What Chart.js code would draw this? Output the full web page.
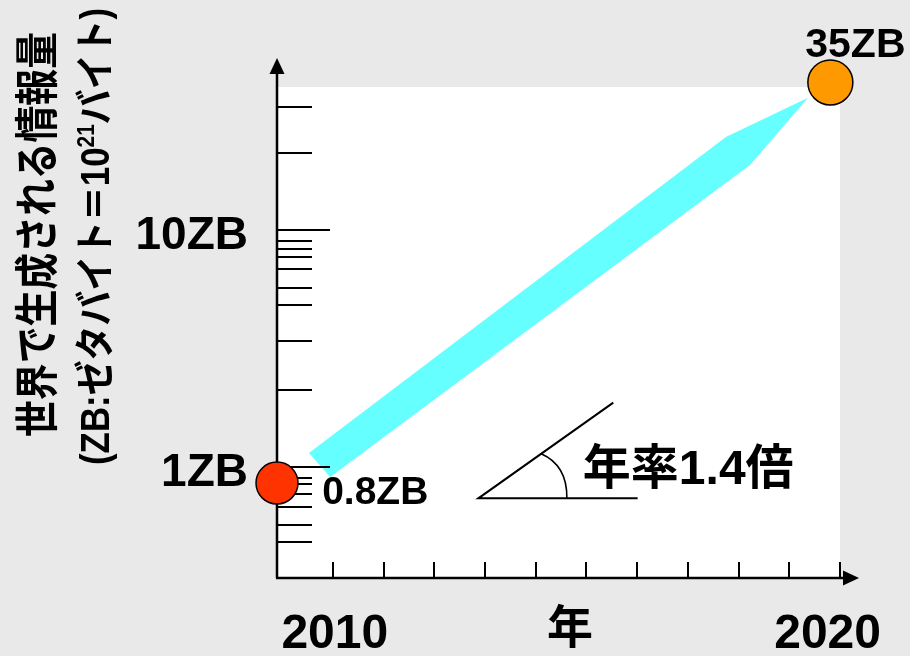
<!DOCTYPE html>
<html lang="ja">
<head>
<meta charset="utf-8">
<title>世界で生成される情報量</title>
<script src="https://cdn.jsdelivr.net/npm/chart.js@4.4.1/dist/chart.umd.min.js"></script>
<style>
  html, body { margin: 0; padding: 0; background: #e9e9e9; }
  .chart-parent { position: relative; width: 910px; height: 656px; }
</style>
</head>
<body>
<div class="chart-parent">
  <canvas id="myChart"></canvas>
</div>
<script>
// growth band (year, ZB), polygon order
const bandYears = [2009.53, 2017.75, 2019.37, 2018.23, 2009.95, 2009.53];
const bandZB = [1.145, 24.6, 36, 18.8, 0.906, 1.145];

// start / end markers
const startYear = [2008.9];
const startZB = [0.855];
const endYear = [2019.81];
const endZB = [41.8];

// "annual rate" angle sketch: upper end, vertex, horizontal end
const angleYears = [2015.53, 2012.87, 2016.01];
const angleZB = [1.866, 0.737, 0.737];

// axes
const yearTicks = [2010, 2011, 2012, 2013, 2014, 2015, 2016, 2017, 2018, 2019, 2020];
const yearLabelValues = [2010, 2020];
const yearLabels = ['2010', '2020'];
const zbMinorTicks = [0.48, 0.57, 0.68, 0.77, 0.85, 0.9, 2.1, 3.4, 4.8, 5.7, 6.8, 7.7, 8.3, 9, 21, 33];
const zbMajorTicks = [1, 10];
const zbLabels = ['1ZB', '10ZB'];

const startText = '0.8ZB';
const startTextAt = [2009.79, 0.8];
const endText = '35ZB';
const rateText = '年率1.4倍';
const rateTextAt = [2014.93, 1.0];
const xTitle = '年';
const yTitle1 = '世界で生成される情報量';

const FONT = '"Liberation Sans", "Noto Sans CJK JP", sans-serif';
const font = size => 'bold ' + size + 'px ' + FONT;

// draw text with its glyphs centred on cy
function label(ctx, str, x, cy, size, align) {
  ctx.font = font(size);
  ctx.textAlign = align || 'center';
  ctx.textBaseline = 'alphabetic';
  ctx.fillText(str, x, cy + size * 0.36);
}

// rotated title, squeezed to a given length
function vlabel(ctx, parts, cx, cy, len) {
  ctx.save();
  ctx.translate(cx, cy);
  ctx.rotate(-Math.PI / 2);
  let w = 0;
  parts.forEach(p => {
    ctx.font = font(p.size);
    p.w = ctx.measureText(p.t).width;
    w += p.w;
  });
  ctx.scale(len / w, 1);
  ctx.textAlign = 'left';
  ctx.textBaseline = 'alphabetic';
  const base = parts[0].size * 0.36;
  let x = -w / 2;
  parts.forEach(p => {
    ctx.font = font(p.size);
    ctx.fillText(p.t, x, base - (p.rise || 0));
    x += p.w;
  });
  ctx.restore();
}

const pts = (xs, ys) => xs.map((x, i) => ({x: x, y: ys[i]}));

const axesPlugin = {
  id: 'axes',
  beforeDraw(chart) {
    const {ctx, chartArea: a, width, height} = chart;
    ctx.save();
    ctx.fillStyle = '#e9e9e9';
    ctx.fillRect(0, 0, width, height);
    ctx.fillStyle = '#ffffff';
    ctx.fillRect(a.left, a.top, a.right - a.left, a.bottom - a.top);
    ctx.restore();
  },
  afterDatasetDraw(chart, args) {
    if (chart.data.datasets[args.index].label !== 'band') return;
    const {ctx, chartArea: a} = chart;
    const xs = chart.scales.x, ys = chart.scales.y;
    ctx.save();
    ctx.strokeStyle = '#000';
    ctx.fillStyle = '#000';
    ctx.lineWidth = 2.5;
    ctx.beginPath();
    ctx.moveTo(a.left, a.bottom);
    ctx.lineTo(a.left, a.top - 14);
    ctx.moveTo(a.left - 1, a.bottom);
    ctx.lineTo(a.right + 5, a.bottom);
    ctx.stroke();
    ctx.beginPath();
    ctx.moveTo(a.left, a.top - 29);
    ctx.lineTo(a.left - 7.5, a.top - 13);
    ctx.lineTo(a.left + 7.5, a.top - 13);
    ctx.closePath();
    ctx.fill();
    ctx.beginPath();
    ctx.moveTo(a.right + 19, a.bottom);
    ctx.lineTo(a.right + 3, a.bottom - 7.5);
    ctx.lineTo(a.right + 3, a.bottom + 7.5);
    ctx.closePath();
    ctx.fill();

    ctx.lineWidth = 2;
    ctx.beginPath();
    yearTicks.forEach(v => {
      const px = Math.round(xs.getPixelForValue(v));
      ctx.moveTo(px, a.bottom);
      ctx.lineTo(px, a.bottom - 16);
    });
    zbMinorTicks.forEach(v => {
      const py = Math.round(ys.getPixelForValue(v));
      ctx.moveTo(a.left, py);
      ctx.lineTo(a.left + 35, py);
    });
    zbMajorTicks.forEach(v => {
      const py = Math.round(ys.getPixelForValue(v));
      ctx.moveTo(a.left, py);
      ctx.lineTo(a.left + 53, py);
    });
    ctx.stroke();
    ctx.restore();
  },
  afterDatasetsDraw(chart) {
    const {ctx, chartArea: a, width} = chart;
    const xs = chart.scales.x, ys = chart.scales.y;
    ctx.save();
    ctx.fillStyle = '#000';

    zbMajorTicks.forEach((v, i) => {
      label(ctx, zbLabels[i], a.left - 29, ys.getPixelForValue(v) + 3, 46, 'right');
    });
    yearLabelValues.forEach((v, i) => {
      ctx.font = font(48);
      const w = ctx.measureText(yearLabels[i]).width;
      const cx = Math.min(xs.getPixelForValue(v) + 2, width - 29 - w / 2);
      label(ctx, yearLabels[i], cx, a.bottom + 52.5, 48);
    });
    label(ctx, xTitle, 570, a.bottom + 48, 46);

    vlabel(ctx, [{t: yTitle1, size: 44}], 37, 234.5, 405);
    vlabel(ctx, [
      {t: '(ZB:ゼタバイト＝10', size: 40},
      {t: '21', size: 24, rise: 15},
      {t: 'バイト)', size: 40}
    ], 95, 236.5, 457);

    label(ctx, startText, xs.getPixelForValue(startTextAt[0]), ys.getPixelForValue(startTextAt[1]), 39, 'left');
    label(ctx, endText, xs.getPixelForValue(endYear[0]) + 25, ys.getPixelForValue(endZB[0]) - 40, 41);
    label(ctx, rateText, xs.getPixelForValue(rateTextAt[0]), ys.getPixelForValue(rateTextAt[1]), 48, 'left');

    // arc of the angle sketch
    const vx = xs.getPixelForValue(angleYears[1]), vy = ys.getPixelForValue(angleZB[1]);
    const ux = xs.getPixelForValue(angleYears[0]), uy = ys.getPixelForValue(angleZB[0]);
    const d = Math.hypot(ux - vx, uy - vy);
    ctx.strokeStyle = '#000';
    ctx.lineWidth = 1.6;
    ctx.beginPath();
    ctx.moveTo(vx + 77 * (ux - vx) / d, vy + 77 * (uy - vy) / d);
    ctx.quadraticCurveTo(vx + 89, vy - 33, vx + 88.5, vy);
    ctx.stroke();
    ctx.restore();
  }
};

new Chart(document.getElementById('myChart'), {
  type: 'line',
  data: {
    datasets: [
      {
        label: 'band',
        data: pts(bandYears, bandZB),
        fill: 'shape',
        backgroundColor: '#66ffff',
        borderColor: 'rgba(0,0,0,0)',
        borderWidth: 1,
        pointRadius: 0,
        order: 3
      },
      {
        label: 'angle',
        data: pts(angleYears, angleZB),
        fill: false,
        borderColor: '#000',
        borderWidth: 2,
        borderJoinStyle: 'miter',
        pointRadius: 0,
        order: 2
      },
      {
        label: 'start',
        data: pts(startYear, startZB),
        showLine: false,
        pointRadius: 21,
        pointBackgroundColor: '#ff3300',
        pointBorderColor: '#000',
        pointBorderWidth: 1.5,
        clip: false,
        order: 1
      },
      {
        label: 'end',
        data: pts(endYear, endZB),
        showLine: false,
        pointRadius: 22.5,
        pointBackgroundColor: '#ff9900',
        pointBorderColor: '#000',
        pointBorderWidth: 1.5,
        clip: false,
        order: 1
      }
    ]
  },
  options: {
    responsive: true,
    maintainAspectRatio: false,
    animation: false,
    events: [],
    layout: { padding: { left: 277, right: 70, top: 87, bottom: 78 } },
    plugins: {
      legend: { display: false },
      tooltip: { enabled: false }
    },
    scales: {
      x: { type: 'linear', min: 2008.9, max: 2020, bounds: 'data', display: false },
      y: { type: 'logarithmic', min: 0.34, max: 40, bounds: 'data', display: false }
    }
  },
  plugins: [axesPlugin]
});
</script>
</body>
</html>
